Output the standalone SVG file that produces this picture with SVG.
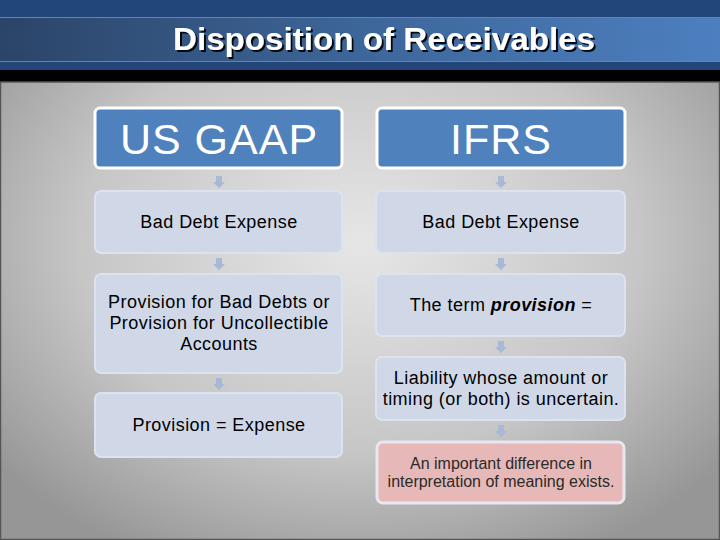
<svg xmlns="http://www.w3.org/2000/svg" width="720" height="540" viewBox="0 0 720 540">
<defs>
<radialGradient id="bg" cx="0.5" cy="0.45" r="0.65">
<stop offset="0" stop-color="#e6e6e6"/>
<stop offset="0.6" stop-color="#c6c6c6"/>
<stop offset="1" stop-color="#969696"/>
</radialGradient>
<linearGradient id="band" x1="0" y1="0" x2="1" y2="0">
<stop offset="0" stop-color="#2b4468"/>
<stop offset="0.5" stop-color="#3d6699"/>
<stop offset="1" stop-color="#4d7fbf"/>
</linearGradient>
<filter id="sh" x="-5%" y="-20%" width="110%" height="140%">
<feDropShadow dx="2" dy="2" stdDeviation="0.6" flood-color="#000" flood-opacity="0.9"/>
</filter>
<symbol id="arr" viewBox="0 0 12 12" overflow="visible">
<path d="M3,0 H9 V6 H12 L6,12 L0,6 H3 Z" fill="#a9b8d5"/>
</symbol>
</defs>
<style>
.hdr{fill:#4f81bd;stroke:#fff;stroke-width:3}
.box{fill:#d0d8e8;stroke:#dde3ee;stroke-width:2}
.red{fill:#e6b9b8;stroke:#e8e6ee;stroke-width:3}
.ht{font-family:"Liberation Sans",Arial,sans-serif;font-size:43px;letter-spacing:1px;fill:#fff;text-anchor:middle}
.t{font-family:"Liberation Sans",Arial,sans-serif;font-size:18px;letter-spacing:0.45px;fill:#000;text-anchor:middle}
.rt{font-family:"Liberation Sans",Arial,sans-serif;font-size:16px;fill:#2a2a2a;text-anchor:middle}
</style>
<rect x="0" y="0" width="720" height="540" fill="url(#bg)"/>
<rect x="0" y="0" width="720" height="70" fill="#22457a"/>
<rect x="0" y="17" width="720" height="45" fill="url(#band)"/>
<line x1="0" y1="17.5" x2="720" y2="17.5" stroke="#5a86bd" stroke-width="1"/>
<line x1="0" y1="61.5" x2="720" y2="61.5" stroke="#5a86bd" stroke-width="1"/>
<rect x="0" y="70" width="720" height="12" fill="#000"/>
<rect x="0.5" y="82" width="719" height="457.5" fill="none" stroke="#555" stroke-width="1.5"/>
<text x="384" y="50" font-family="Liberation Sans,Arial,sans-serif" font-weight="bold" font-size="31" fill="#fff" text-anchor="middle" textLength="422" lengthAdjust="spacingAndGlyphs" filter="url(#sh)">Disposition of Receivables</text>

<g id="connectors">
<use href="#arr" x="213" y="176" width="12" height="12"/>
<use href="#arr" x="213" y="258" width="12" height="12"/>
<use href="#arr" x="213" y="378" width="12" height="12"/>
<use href="#arr" x="495" y="176" width="12" height="12"/>
<use href="#arr" x="495" y="258" width="12" height="12"/>
<use href="#arr" x="495" y="341" width="12" height="12"/>
<use href="#arr" x="495" y="425" width="12" height="12"/>
</g>

<g id="usgaap"><rect class="hdr" x="95" y="108" width="247" height="60" rx="5"/><text class="ht" x="219" y="154">US GAAP</text></g>
<g id="ifrs"><rect class="hdr" x="377" y="108" width="248" height="60" rx="5"/><text class="ht" x="501" y="154">IFRS</text></g>

<g id="l-bde"><rect class="box" x="95" y="191" width="247" height="62" rx="6"/><text class="t" x="219" y="228">Bad Debt Expense</text></g>
<g id="l-prov"><rect class="box" x="95" y="274" width="247" height="99" rx="6"/><text class="t" x="219" y="308">Provision for Bad Debts or</text><text class="t" x="219" y="329">Provision for Uncollectible</text><text class="t" x="219" y="350">Accounts</text></g>
<g id="l-exp"><rect class="box" x="95" y="393" width="247" height="64" rx="6"/><text class="t" x="219" y="431">Provision = Expense</text></g>

<g id="r-bde"><rect class="box" x="376" y="191" width="249" height="62" rx="6"/><text class="t" x="501" y="228">Bad Debt Expense</text></g>
<g id="r-term"><rect class="box" x="376" y="274" width="249" height="62" rx="6"/><text class="t" x="501" y="311">The term <tspan font-weight="bold" font-style="italic">provision</tspan> =</text></g>
<g id="r-liab"><rect class="box" x="376" y="357" width="249" height="63" rx="6"/><text class="t" x="501" y="384">Liability whose amount or</text><text class="t" x="501" y="405">timing (or both) is uncertain.</text></g>
<g id="r-diff"><rect class="red" x="377" y="442" width="247" height="61" rx="6"/><text class="rt" x="501" y="469">An important difference in</text><text class="rt" x="501" y="487">interpretation of meaning exists.</text></g>
</svg>
